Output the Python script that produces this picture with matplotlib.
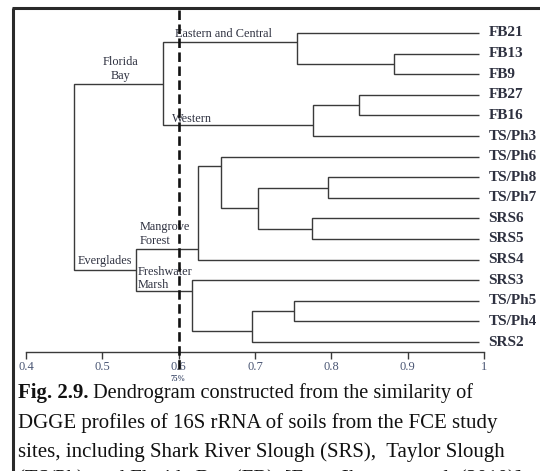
import matplotlib
matplotlib.use("Agg")
import matplotlib.pyplot as plt
from matplotlib.lines import Line2D

# ---------------- data ----------------
leaves = ["FB21", "FB13", "FB9", "FB27", "FB16", "TS/Ph3", "TS/Ph6", "TS/Ph8",
          "TS/Ph7", "SRS6", "SRS5", "SRS4", "SRS3", "TS/Ph5", "TS/Ph4", "SRS2"]
leaf_similarity = 0.993

# internal nodes: name, left child, right child, similarity at merge
node_names = ["n1", "EC", "n2", "W", "FL", "n3", "n4", "n5", "n6", "MF",
              "n7", "n8", "FM", "EV", "root"]
node_left = ["FB13", "FB21", "FB27", "n2", "EC", "TS/Ph8", "SRS6", "n3", "TS/Ph6", "n6",
             "TS/Ph5", "n7", "SRS3", "MF", "FL"]
node_right = ["FB9", "n1", "FB16", "TS/Ph3", "W", "TS/Ph7", "SRS5", "n4", "n5", "SRS4",
              "TS/Ph4", "SRS2", "n8", "FM", "EV"]
node_similarity = [0.882, 0.755, 0.836, 0.776, 0.579, 0.796, 0.775, 0.704, 0.656, 0.625,
                   0.751, 0.696, 0.617, 0.544, 0.463]

group_labels = ["Eastern and Central", "Florida\nBay", "Western", "Mangrove\nForest",
                "Everglades", "Freshwater\nMarsh"]

xticks = [0.4, 0.5, 0.6, 0.7, 0.8, 0.9, 1.0]
xtick_labels = ["0.4", "0.5", "0.6", "0.7", "0.8", "0.9", "1"]
cutoff = 0.6
cutoff_label = "75%"

caption_bold = "Fig. 2.9."
caption_lines = [
    " Dendrogram constructed from the similarity of",
    "DGGE profiles of 16S rRNA of soils from the FCE study",
    "sites, including Shark River Slough (SRS),  Taylor Slough",
    "(TS/Ph), and Florida Bay (FB). [From Ikenaga et al. (2010)].",
]

# ---------------- layout / style ----------------
W, H = 540, 471
DPI = 100
# where the parent link attaches along a node's vertical bar (0=top, 1=bottom)
attach = {"EC": 0.3, "W": 0.65, "n6": 0.19, "MF": 0.89, "n8": 0.65, "FM": 0.21}
# group label placement in pixels: (x px, y px, ha)
group_pos = [(175, 34, "left"), (121, 69, "center"), (172, 119, "left"),
             (140, 234, "left"), (78, 261, "left"), (138, 278.5, "left")]
line_color = "#3a3a3a"
text_color = "#2e3140"
tick_color = "#4a5674"

plt.rcParams["font.family"] = ["Liberation Serif", "DejaVu Serif"]

fig = plt.figure(figsize=(W / DPI, H / DPI), dpi=DPI)

px_left, px_right = 26, 484
px_top, px_axis = 8, 352
leaf_px0, leaf_step = 33, 20.6


def xdat(px):
    return 0.4 + (px - px_left) / (px_right - px_left) * 0.6


def ydat(px):
    return (px - leaf_px0) / leaf_step


ax = fig.add_axes([px_left / W, 1 - px_axis / H, (px_right - px_left) / W,
                   (px_axis - px_top) / H])
ax.set_xlim(0.4, 1.0)
ax.set_ylim(ydat(px_axis), ydat(px_top))
ax.patch.set_visible(False)
for s in ["top", "left", "right"]:
    ax.spines[s].set_visible(False)
ax.spines["bottom"].set_color(line_color)
ax.spines["bottom"].set_linewidth(1.0)
ax.set_yticks([])
ax.set_xticks(xticks)
ax.set_xticklabels(xtick_labels)
ax.tick_params(axis="x", direction="out", length=5, width=1.0, color=line_color,
               labelsize=9, labelcolor=tick_color, pad=1.5)

# compute positions and draw links
pos = {}
for i, name in enumerate(leaves):
    pos[name] = (leaf_similarity, float(i))
for name, l, r, h in zip(node_names, node_left, node_right, node_similarity):
    (xl, yl), (xr, yr) = pos[l], pos[r]
    f = attach.get(name, 0.5)
    pos[name] = (h, yl + f * (yr - yl))
    ax.plot([xl, h, h, xr], [yl, yl, yr, yr], color=line_color, lw=1.0,
            solid_capstyle="butt", solid_joinstyle="miter", clip_on=False)

for i, name in enumerate(leaves):
    ax.text(leaf_similarity + 0.013, i, name, fontsize=11, fontweight="bold",
            color=text_color, va="center", ha="left")

# group labels
for s, (gx, gy, ha) in zip(group_labels, group_pos):
    ax.text(xdat(gx), ydat(gy), s, fontsize=8.8, color=text_color,
            ha=ha, va="center", linespacing=1.2)

# cutoff dashed line
ax.plot([cutoff, cutoff], [ydat(10), ydat(370)],
        color="#111111", lw=1.9, dashes=[3.6, 1.7], clip_on=False, zorder=5)
ax.text(cutoff, ydat(379), cutoff_label, fontsize=5.5,
        fontweight="bold", color=tick_color, ha="center", va="center")

# frame lines (figure pixels)
fig.add_artist(Line2D([13 / W, 13 / W], [1 - 7.5 / H, 0], transform=fig.transFigure,
                      color="#2a2a2a", lw=2.2, solid_capstyle="butt"))
fig.add_artist(Line2D([12 / W, 1], [1 - 7.5 / H, 1 - 7.5 / H], transform=fig.transFigure,
                      color="#2a2a2a", lw=2.2, solid_capstyle="butt"))

# caption
cap_sizes = [14.6, 15, 15, 15]
baselines = [398, 428, 457, 484]
t0 = fig.text(18 / W, 1 - baselines[0] / H, caption_bold, fontsize=15,
              fontweight="bold", color="#111111", va="baseline", ha="left")
fig.canvas.draw()
bb = t0.get_window_extent(renderer=fig.canvas.get_renderer())
fig.text(bb.x1 / W, 1 - baselines[0] / H, caption_lines[0], fontsize=cap_sizes[0],
         color="#111111", va="baseline", ha="left")
for line, b, fs in zip(caption_lines[1:], baselines[1:], cap_sizes[1:]):
    fig.text(18 / W, 1 - b / H, line, fontsize=fs, color="#111111",
             va="baseline", ha="left")

fig.savefig("out.png", dpi=DPI)
